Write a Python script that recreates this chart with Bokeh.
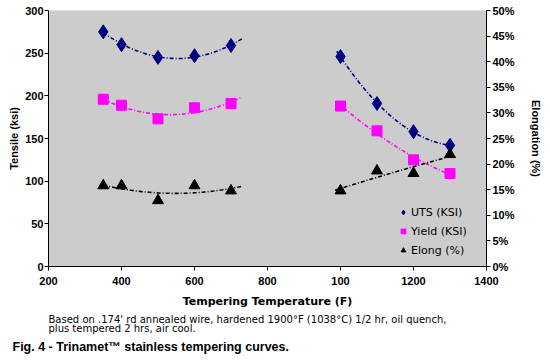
import numpy as np
from bokeh.plotting import figure
from bokeh.models import (Range1d, LinearAxis, FixedTicker, PrintfTickFormatter,
                          Legend, LegendItem, Title)
from bokeh.embed import file_html
from bokeh.resources import INLINE

# ---- data ----
temp_low = [350, 400, 500, 600, 700]
temp_high = [1000, 1100, 1200, 1300]
uts_low = [275, 260, 245, 247, 259]
uts_high = [246, 191, 158, 142]
yield_low = [196, 189, 173, 186, 191]
yield_high = [188, 159, 125, 109]
elong_low = [15.8, 15.8, 12.9, 15.8, 14.8]
elong_high = [14.8, 18.7, 18.2, 21.9]

x_ticks = [200, 400, 600, 800, 1000, 1200, 1400]
x_tick_labels = {1000: "100"}
y_ticks = [0, 50, 100, 150, 200, 250, 300]
pct_ticks = [0, 5, 10, 15, 20, 25, 30, 35, 40, 45, 50]

NAVY = "#000080"
MAG = "#ff00ff"
BLK = "#000000"
BG = "#cccccc"
AX_FONT = "Liberation Sans"
TXT_FONT = "DejaVu Sans"

p = figure(width=544, height=356, output_backend="svg", toolbar_location=None,
           x_range=Range1d(200, 1400), y_range=Range1d(0, 300),
           min_border_left=48, min_border_right=52, min_border_top=10, min_border_bottom=90)
p.extra_y_ranges = {"elong": Range1d(0, 50)}
p.background_fill_color = BG
p.border_fill_color = "white"
p.outline_line_color = None
p.grid.visible = False

def style_axis(ax):
    ax.axis_line_color = "black"
    ax.major_tick_line_color = "black"
    ax.minor_tick_line_color = None
    ax.major_tick_out = 4
    ax.major_tick_in = 0
    ax.major_label_text_font = AX_FONT
    ax.major_label_text_font_style = "bold"
    ax.major_label_text_font_size = "11px"
    ax.major_label_text_color = "black"
    ax.axis_label_text_font = AX_FONT
    ax.axis_label_text_font_style = "bold"
    ax.axis_label_text_font_size = "11px"
    ax.axis_label_text_color = "black"
    ax.major_label_standoff = 2

xa = p.xaxis[0]
style_axis(xa)
xa.ticker = FixedTicker(ticks=x_ticks)
xa.major_label_overrides = x_tick_labels
xa.major_label_standoff = 6
xa.axis_label = "Tempering Temperature (F)"
xa.axis_label_text_font = TXT_FONT
xa.axis_label_text_font_size = "11px"
xa.axis_label_standoff = 7

ya = p.yaxis[0]
style_axis(ya)
ya.ticker = FixedTicker(ticks=y_ticks)
ya.axis_label = "Tensile (ksi)"
ya.major_label_standoff = 1
ya.axis_label_standoff = 2

ra = LinearAxis(y_range_name="elong", ticker=FixedTicker(ticks=pct_ticks),
                formatter=PrintfTickFormatter(format="%d%%"), axis_label="Elongation (%)")
style_axis(ra)
ra.axis_label_standoff = 12
p.add_layout(ra, "right")

# ---- trendlines (2nd-order polynomial fits of the data, as in the original) ----
def trend(xs, ys, x0, x1, **kw):
    c = np.polyfit(xs, ys, 2)
    xx = np.linspace(x0, x1, 80)
    p.line(xx, np.polyval(c, xx), line_dash="4 2 1 2", line_width=1.6, **kw)

trend(temp_low, uts_low, 350, 730, line_color=NAVY)
trend(temp_high, uts_high, 990, 1300, line_color=NAVY)
trend(temp_low, yield_low, 350, 730, line_color=MAG)
trend(temp_high, yield_high, 990, 1300, line_color=MAG)
trend(temp_low, elong_low, 350, 730, line_color=BLK, y_range_name="elong")
trend(temp_high, elong_high, 985, 1300, line_color=BLK, y_range_name="elong")

# ---- markers ----
temps = temp_low + temp_high
r_uts = p.scatter(temps, uts_low + uts_high, marker="diamond", size=14,
                  fill_color=NAVY, line_color=NAVY)
r_yld = p.scatter(temps, yield_low + yield_high, marker="square", size=10,
                  fill_color=MAG, line_color=MAG)
r_el = p.scatter(temps, elong_low + elong_high, marker="triangle", size=11,
                 fill_color=BLK, line_color=BLK, y_range_name="elong")

legend = Legend(items=[LegendItem(label="UTS (KSI)", renderers=[r_uts]),
                       LegendItem(label="Yield (KSI)", renderers=[r_yld]),
                       LegendItem(label="Elong (%)", renderers=[r_el])],
                location=(349, 8))
legend.background_fill_alpha = 0
legend.border_line_color = None
legend.label_text_font = TXT_FONT
legend.label_text_font_size = "11px"
legend.label_text_color = "black"
legend.glyph_width = 12
legend.glyph_height = 12
legend.label_height = 16
legend.spacing = 3
legend.padding = 0
legend.margin = 0
legend.label_standoff = 2
p.add_layout(legend, "center")

# ---- footnote and caption ----
notes = ["Based on .174' rd annealed wire, hardened 1900\u00b0F (1038\u00b0C) 1/2 hr, oil quench,",
         "plus tempered 2 hrs, air cool."]
caption = "Fig. 4 - Trinamet\u2122 stainless tempering curves."

p.add_layout(Title(text="\n".join(notes), align="left", offset=0, standoff=3,
                   text_font=TXT_FONT, text_font_size="10px", text_font_style="normal",
                   text_color="black", text_line_height=0.85), "below")
p.add_layout(Title(text=caption, align="left", offset=-36, standoff=5,
                   text_font=AX_FONT, text_font_size="12.5px", text_font_style="bold",
                   text_color="black"), "below")

open("out.html", "w").write(file_html(p, INLINE))
